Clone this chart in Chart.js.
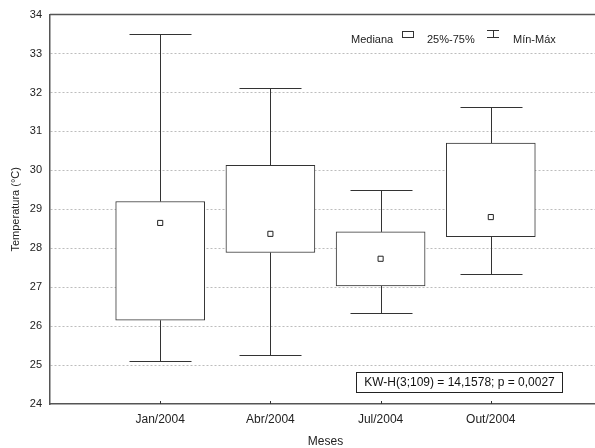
<!DOCTYPE html>
<html>
<head>
<meta charset="utf-8">
<script src="https://cdn.jsdelivr.net/npm/chart.js@4/dist/chart.umd.min.js"></script>
<style>
  html, body { margin: 0; padding: 0; background: #fff; overflow: hidden; }
  #wrap { width: 606px; height: 452px; }
</style>
</head>
<body>
<div id="wrap"><canvas id="c" width="606" height="452"></canvas></div>
<script>
// Water temperature by sampling month
const months  = ['Jan/2004', 'Abr/2004', 'Jul/2004', 'Out/2004'];
const minVals = [25.10, 25.25, 26.33, 27.33];
const q1Vals  = [26.15, 27.89, 27.03, 28.30];
const medians = [28.65, 28.37, 27.73, 28.80];
const q3Vals  = [29.20, 30.13, 28.42, 30.70];
const maxVals = [33.50, 32.11, 29.49, 31.62];
const yTicks  = [24, 25, 26, 27, 28, 29, 30, 31, 32, 33, 34];
const legendLabels = ['Mediana', '25%-75%', 'Mín-Máx'];
const statText = 'KW-H(3;109) = 14,1578; p = 0,0027';

const FONT = '"Liberation Sans", Arial, sans-serif';
const INK = '#333';

// Whiskers, caps, frame, category tick marks, legend and test statistic
const boxExtras = {
  id: 'boxExtras',
  beforeDatasetsDraw(chart) {
    const { ctx, scales: { x, y } } = chart;
    ctx.save();
    ctx.strokeStyle = INK;
    ctx.lineWidth = 1;
    months.forEach((m, i) => {
      const cx = Math.round(x.getPixelForValue(i + 1)) + 0.5;
      const capHalf = 31;
      const yMin = Math.round(y.getPixelForValue(minVals[i])) + 0.5;
      const yMax = Math.round(y.getPixelForValue(maxVals[i])) + 0.5;
      const yQ1 = y.getPixelForValue(q1Vals[i]);
      const yQ3 = y.getPixelForValue(q3Vals[i]);
      ctx.beginPath();
      ctx.moveTo(cx, yQ3); ctx.lineTo(cx, yMax);
      ctx.moveTo(cx - capHalf, yMax); ctx.lineTo(cx + capHalf, yMax);
      ctx.moveTo(cx, yQ1); ctx.lineTo(cx, yMin);
      ctx.moveTo(cx - capHalf, yMin); ctx.lineTo(cx + capHalf, yMin);
      ctx.stroke();
    });
    ctx.restore();
  },
  afterDraw(chart) {
    const { ctx, chartArea: a, scales: { x } } = chart;
    ctx.save();
    // top frame line
    ctx.strokeStyle = '#555';
    ctx.lineWidth = 1.5;
    ctx.beginPath();
    ctx.moveTo(a.left, a.top); ctx.lineTo(a.right, a.top);
    ctx.stroke();
    // category tick marks above the axis
    ctx.lineWidth = 1;
    ctx.strokeStyle = INK;
    months.forEach((m, i) => {
      const cx = Math.round(x.getPixelForValue(i + 1)) + 0.5;
      ctx.beginPath();
      ctx.moveTo(cx, a.bottom); ctx.lineTo(cx, a.bottom - 3);
      ctx.stroke();
    });

    // legend
    ctx.font = '11px ' + FONT;
    ctx.textBaseline = 'alphabetic';
    ctx.textAlign = 'left';
    const base = 43;
    ctx.strokeStyle = INK;
    ctx.fillStyle = '#222';
    ctx.fillText(legendLabels[0], 351, base);
    ctx.strokeRect(402.5, 31.5, 11, 6);
    ctx.fillText(legendLabels[1], 427, base);
    ctx.beginPath();
    ctx.moveTo(487, 30.5); ctx.lineTo(499, 30.5);
    ctx.moveTo(493.5, 30.5); ctx.lineTo(493.5, 37.5);
    ctx.moveTo(487, 37.5); ctx.lineTo(499, 37.5);
    ctx.stroke();
    ctx.fillText(legendLabels[2], 513, base);

    // Kruskal-Wallis result box
    ctx.font = '12px ' + FONT;
    ctx.fillStyle = '#fff';
    ctx.fillRect(356.5, 372.5, 206, 20);
    ctx.strokeStyle = '#222';
    ctx.strokeRect(356.5, 372.5, 206, 20);
    ctx.fillStyle = '#111';
    ctx.textAlign = 'center';
    ctx.textBaseline = 'middle';
    ctx.fillText(statText, 459.5, 383);
    ctx.restore();
  }
};

new Chart(document.getElementById('c'), {
  data: {
    datasets: [
      {
        type: 'scatter',
        label: 'Mediana',
        order: 0,
        data: months.map((m, i) => ({ x: i + 1, y: medians[i] })),
        pointStyle: 'rect',
        radius: 3.6,
        backgroundColor: '#fff',
        borderColor: '#222',
        borderWidth: 1
      },
      {
        type: 'bar',
        label: '25%-75%',
        order: 1,
        data: months.map((m, i) => ({ x: i + 1, y: [q1Vals[i], q3Vals[i]] })),
        backgroundColor: '#fff',
        borderColor: INK,
        borderWidth: 1,
        borderSkipped: false,
        barThickness: 89
      }
    ]
  },
  options: {
    responsive: false,
    animation: false,
    events: [],
    layout: { padding: { top: 14, right: 0, left: 0, bottom: 0 } },
    plugins: { legend: { display: false }, tooltip: { enabled: false } },
    scales: {
      x: {
        type: 'linear',
        offset: false,
        min: 0,
        max: 5,
        afterBuildTicks(s) { s.ticks = months.map((m, i) => ({ value: i + 1 })); },
        afterFit(s) { s.height = 48; },
        ticks: {
          callback: v => months[v - 1] || '',
          font: { family: FONT, size: 12 },
          color: '#222',
          padding: 8,
          maxRotation: 0
        },
        grid: { display: false, drawTicks: false, offset: false },
        border: { display: true, color: '#555', width: 1.5 },
        title: {
          display: true,
          text: 'Meses',
          font: { family: FONT, size: 12 },
          color: '#222',
          padding: { top: 0, bottom: 3 }
        }
      },
      y: {
        type: 'linear',
        min: 24,
        max: 34,
        afterBuildTicks(s) { s.ticks = yTicks.map(v => ({ value: v })); },
        afterFit(s) { s.width = 50; },
        ticks: {
          font: { family: FONT, size: 11 },
          color: '#222',
          padding: 8
        },
        grid: {
          drawTicks: false,
          color: c => (c.tick && (c.tick.value === 24 || c.tick.value === 34)) ? 'rgba(0,0,0,0)' : '#bdbdbd',
          lineWidth: 1
        },
        border: { display: true, color: '#555', width: 1.5, dash: [2, 2] },
        title: {
          display: true,
          text: 'Temperatura (°C)',
          font: { family: FONT, size: 11 },
          color: '#222',
          padding: { top: 9, bottom: 0 }
        }
      }
    }
  },
  plugins: [boxExtras]
});
</script>
</body>
</html>
